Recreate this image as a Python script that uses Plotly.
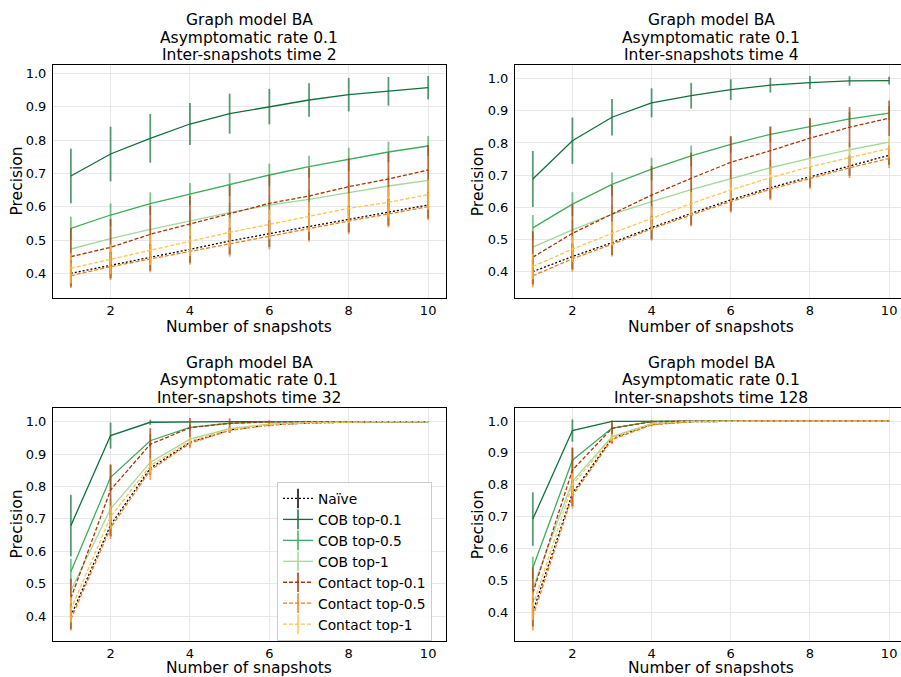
import plotly.graph_objects as go

W, H = 901, 677
x_snap = [1, 2, 3, 4, 5, 6, 7, 8, 9, 10]
series_names = ["Naïve", "COB top-0.1", "COB top-0.5", "COB top-1",
                "Contact top-0.1", "Contact top-0.5", "Contact top-1"]
inter_times = [2, 4, 32, 128]
x_tick_vals = [2, 4, 6, 8, 10]

# ---- Inter-snapshots time 2 ----
t2_naive = [0.400, 0.425, 0.448, 0.472, 0.497, 0.519, 0.540, 0.563, 0.583, 0.605]
t2_naive_err = [0.040, 0.040, 0.040, 0.040, 0.040, 0.040, 0.040, 0.040, 0.040, 0.040]
t2_cob01 = [0.692, 0.758, 0.805, 0.848, 0.879, 0.900, 0.920, 0.936, 0.946, 0.957]
t2_cob01_err = [0.082, 0.082, 0.073, 0.063, 0.060, 0.053, 0.050, 0.050, 0.043, 0.035]
t2_cob05 = [0.535, 0.575, 0.609, 0.638, 0.666, 0.695, 0.720, 0.742, 0.764, 0.782]
t2_cob05_err = [0.035, 0.035, 0.034, 0.033, 0.034, 0.034, 0.033, 0.035, 0.031, 0.030]
t2_cob1 = [0.473, 0.504, 0.532, 0.558, 0.582, 0.605, 0.622, 0.642, 0.662, 0.679]
t2_cob1_err = [0.030, 0.030, 0.030, 0.030, 0.030, 0.030, 0.030, 0.030, 0.030, 0.030]
t2_con01 = [0.450, 0.478, 0.517, 0.547, 0.579, 0.610, 0.632, 0.660, 0.683, 0.710]
t2_con01_err = [0.085, 0.085, 0.085, 0.085, 0.085, 0.085, 0.085, 0.085, 0.080, 0.075]
t2_con05 = [0.393, 0.420, 0.443, 0.466, 0.490, 0.512, 0.535, 0.557, 0.578, 0.600]
t2_con05_err = [0.037, 0.040, 0.040, 0.040, 0.040, 0.040, 0.040, 0.040, 0.040, 0.040]
t2_con1 = [0.415, 0.442, 0.470, 0.497, 0.523, 0.547, 0.570, 0.595, 0.613, 0.636]
t2_con1_err = [0.045, 0.045, 0.045, 0.045, 0.045, 0.045, 0.045, 0.045, 0.045, 0.045]

# ---- Inter-snapshots time 4 ----
t4_naive = [0.400, 0.447, 0.490, 0.537, 0.581, 0.623, 0.661, 0.695, 0.730, 0.762]
t4_naive_err = [0.040, 0.040, 0.038, 0.037, 0.036, 0.035, 0.034, 0.033, 0.032, 0.030]
t4_cob01 = [0.688, 0.807, 0.880, 0.925, 0.947, 0.966, 0.980, 0.988, 0.993, 0.994]
t4_cob01_err = [0.087, 0.072, 0.057, 0.045, 0.040, 0.032, 0.023, 0.020, 0.015, 0.012]
t4_cob05 = [0.536, 0.610, 0.671, 0.719, 0.760, 0.796, 0.827, 0.852, 0.875, 0.893]
t4_cob05_err = [0.040, 0.037, 0.037, 0.035, 0.032, 0.026, 0.024, 0.025, 0.022, 0.022]
t4_cob1 = [0.476, 0.530, 0.578, 0.618, 0.655, 0.690, 0.723, 0.752, 0.779, 0.803]
t4_cob1_err = [0.030, 0.030, 0.028, 0.027, 0.026, 0.025, 0.024, 0.022, 0.021, 0.020]
t4_con01 = [0.445, 0.519, 0.579, 0.638, 0.690, 0.740, 0.776, 0.815, 0.849, 0.877]
t4_con01_err = [0.080, 0.090, 0.090, 0.090, 0.080, 0.080, 0.075, 0.062, 0.063, 0.055]
t4_con05 = [0.387, 0.440, 0.485, 0.533, 0.576, 0.618, 0.656, 0.690, 0.723, 0.752]
t4_con05_err = [0.036, 0.040, 0.038, 0.037, 0.036, 0.035, 0.034, 0.033, 0.032, 0.030]
t4_con1 = [0.416, 0.470, 0.519, 0.566, 0.612, 0.654, 0.692, 0.726, 0.754, 0.783]
t4_con1_err = [0.040, 0.040, 0.038, 0.037, 0.036, 0.035, 0.034, 0.033, 0.032, 0.030]

# ---- Inter-snapshots time 32 ----
t32_naive = [0.400, 0.681, 0.856, 0.936, 0.974, 0.990, 0.996, 0.999, 1.000, 1.000]
t32_naive_err = [0.040, 0.035, 0.020, 0.012, 0.008, 0.004, 0.002, 0.001, 0.000, 0.000]
t32_cob01 = [0.679, 0.957, 0.998, 1.000, 1.000, 1.000, 1.000, 1.000, 1.000, 1.000]
t32_cob01_err = [0.095, 0.040, 0.008, 0.000, 0.000, 0.000, 0.000, 0.000, 0.000, 0.000]
t32_cob05 = [0.537, 0.828, 0.941, 0.982, 0.995, 0.999, 1.000, 1.000, 1.000, 1.000]
t32_cob05_err = [0.040, 0.040, 0.020, 0.010, 0.005, 0.002, 0.000, 0.000, 0.000, 0.000]
t32_cob1 = [0.478, 0.731, 0.874, 0.946, 0.978, 0.992, 0.998, 1.000, 1.000, 1.000]
t32_cob1_err = [0.030, 0.030, 0.020, 0.010, 0.006, 0.003, 0.001, 0.000, 0.000, 0.000]
t32_con01 = [0.455, 0.789, 0.930, 0.981, 0.995, 0.999, 1.000, 1.000, 1.000, 1.000]
t32_con01_err = [0.060, 0.078, 0.050, 0.030, 0.015, 0.005, 0.001, 0.000, 0.000, 0.000]
t32_con05 = [0.390, 0.672, 0.850, 0.933, 0.973, 0.989, 0.996, 0.999, 1.000, 1.000]
t32_con05_err = [0.035, 0.035, 0.030, 0.015, 0.008, 0.004, 0.002, 0.001, 0.000, 0.000]
t32_con1 = [0.420, 0.706, 0.864, 0.940, 0.976, 0.991, 0.997, 0.999, 1.000, 1.000]
t32_con1_err = [0.040, 0.035, 0.025, 0.013, 0.007, 0.003, 0.001, 0.000, 0.000, 0.000]

# ---- Inter-snapshots time 128 ----
t128_naive = [0.400, 0.773, 0.946, 0.990, 0.998, 1.000, 1.000, 1.000, 1.000, 1.000]
t128_naive_err = [0.045, 0.040, 0.015, 0.005, 0.002, 0.000, 0.000, 0.000, 0.000, 0.000]
t128_cob01 = [0.692, 0.970, 0.999, 1.000, 1.000, 1.000, 1.000, 1.000, 1.000, 1.000]
t128_cob01_err = [0.084, 0.035, 0.003, 0.000, 0.000, 0.000, 0.000, 0.000, 0.000, 0.000]
t128_cob05 = [0.539, 0.877, 0.978, 0.998, 1.000, 1.000, 1.000, 1.000, 1.000, 1.000]
t128_cob05_err = [0.035, 0.040, 0.015, 0.003, 0.000, 0.000, 0.000, 0.000, 0.000, 0.000]
t128_cob1 = [0.474, 0.810, 0.951, 0.992, 0.999, 1.000, 1.000, 1.000, 1.000, 1.000]
t128_cob1_err = [0.030, 0.030, 0.010, 0.004, 0.001, 0.000, 0.000, 0.000, 0.000, 0.000]
t128_con01 = [0.460, 0.846, 0.977, 0.998, 1.000, 1.000, 1.000, 1.000, 1.000, 1.000]
t128_con01_err = [0.080, 0.070, 0.020, 0.005, 0.000, 0.000, 0.000, 0.000, 0.000, 0.000]
t128_con05 = [0.385, 0.765, 0.942, 0.988, 0.998, 1.000, 1.000, 1.000, 1.000, 1.000]
t128_con05_err = [0.043, 0.040, 0.015, 0.005, 0.002, 0.000, 0.000, 0.000, 0.000, 0.000]
t128_con1 = [0.420, 0.800, 0.948, 0.991, 0.999, 1.000, 1.000, 1.000, 1.000, 1.000]
t128_con1_err = [0.045, 0.035, 0.012, 0.004, 0.001, 0.000, 0.000, 0.000, 0.000, 0.000]

panels = [
    [(t2_naive, t2_naive_err), (t2_cob01, t2_cob01_err), (t2_cob05, t2_cob05_err), (t2_cob1, t2_cob1_err),
     (t2_con01, t2_con01_err), (t2_con05, t2_con05_err), (t2_con1, t2_con1_err)],
    [(t4_naive, t4_naive_err), (t4_cob01, t4_cob01_err), (t4_cob05, t4_cob05_err), (t4_cob1, t4_cob1_err),
     (t4_con01, t4_con01_err), (t4_con05, t4_con05_err), (t4_con1, t4_con1_err)],
    [(t32_naive, t32_naive_err), (t32_cob01, t32_cob01_err), (t32_cob05, t32_cob05_err), (t32_cob1, t32_cob1_err),
     (t32_con01, t32_con01_err), (t32_con05, t32_con05_err), (t32_con1, t32_con1_err)],
    [(t128_naive, t128_naive_err), (t128_cob01, t128_cob01_err), (t128_cob05, t128_cob05_err), (t128_cob1, t128_cob1_err),
     (t128_con01, t128_con01_err), (t128_con05, t128_con05_err), (t128_con1, t128_con1_err)],
]

# styles
line_colors = ["#000000", "#11703a", "#41ab5d", "#a1d99b", "#a63603", "#f47a20", "#fec44f"]
err_colors = ["rgba(0,0,0,0.75)", "rgba(17,112,58,0.7)", "rgba(65,171,93,0.7)", "rgba(161,217,155,0.7)",
              "rgba(166,54,3,0.7)", "rgba(244,122,32,0.7)", "rgba(254,196,79,0.7)"]
dashes = ["2px,2px", "solid", "solid", "solid", "4px,2px", "4px,2px", "4px,2px"]

FONT = "DejaVu Sans"

# panel geometry (pixels)
px_x = [(53, 446), (515, 901), (53, 446), (515, 901)]
px_y = [(65, 298), (65, 298), (408, 641), (408, 641)]
x_ranges = [[0.55, 10.45], [0.55, 10.3], [0.55, 10.45], [0.55, 10.3]]
y_ranges = [[0.326, 1.025], [0.318, 1.0425], [0.323, 1.042], [0.309, 1.041]]

fig = go.Figure()

for p in range(4):
    ax = "" if p == 0 else str(p + 1)
    for s in range(7):
        ys, es = panels[p][s]
        fig.add_trace(go.Scatter(
            x=x_snap, y=ys, mode="lines", name=series_names[s], showlegend=False,
            line=dict(color=line_colors[s], width=1.3, dash=dashes[s]),
            error_y=dict(type="data", array=es, visible=True, width=0,
                         thickness=1.8, color=err_colors[s]),
            xaxis="x" + ax, yaxis="y" + ax, hoverinfo="skip"))

# legend-only entries (line with vertical error tick)
for s in range(7):
    fig.add_trace(go.Scatter(
        x=[None], y=[None], mode="lines+markers", name=series_names[s],
        line=dict(color=line_colors[s], width=1.3, dash=dashes[s]),
        marker=dict(symbol="line-ns-open", size=14,
                    line=dict(color=line_colors[s], width=1.5)),
        xaxis="x3", yaxis="y3", showlegend=True))

layout = dict(
    width=W, height=H, margin=dict(l=0, r=0, t=0, b=0),
    paper_bgcolor="white", plot_bgcolor="white",
    font=dict(family=FONT, color="#000000"),
    showlegend=True,
    legend=dict(x=277 / W, y=1 - 482 / H, xanchor="left", yanchor="top",
                bgcolor="rgba(255,255,255,0.85)", bordercolor="#cccccc", borderwidth=1,
                font=dict(family=FONT, size=13.8, color="#000000"),
                tracegroupgap=0),
)

annotations = []
for p in range(4):
    ax = "" if p == 0 else str(p + 1)
    x0, x1 = px_x[p]
    y0, y1 = px_y[p]
    layout["xaxis" + ax] = dict(
        domain=[x0 / W, x1 / W], range=x_ranges[p], anchor="y" + ax,
        tickvals=x_tick_vals, ticks="",
        tickfont=dict(family=FONT, size=13, color="#000000"),
        showgrid=True, gridcolor="#e8e8e8", gridwidth=1,
        showline=True, linecolor="#000000", linewidth=1, mirror=True, zeroline=False)
    layout["yaxis" + ax] = dict(
        domain=[1 - y1 / H, 1 - y0 / H], range=y_ranges[p], anchor="x" + ax,
        tickvals=[0.4, 0.5, 0.6, 0.7, 0.8, 0.9, 1.0], tickformat=".1f",
        ticks="outside", ticklen=3, tickcolor="rgba(0,0,0,0)",
        tickfont=dict(family=FONT, size=13, color="#000000"),
        showgrid=True, gridcolor="#e8e8e8", gridwidth=1,
        showline=True, linecolor="#000000", linewidth=1, mirror=True, zeroline=False)

    # titles (three lines)
    cx = (x0 + (907 if p % 2 == 1 else x1)) / 2
    base = 20 if p < 2 else 362.7
    lines = ["Graph model BA", "Asymptomatic rate 0.1", "Inter-snapshots time %d" % inter_times[p]]
    for i, txt in enumerate(lines):
        annotations.append(dict(text=txt, x=cx / W, y=1 - (base + i * 17.6) / H,
                                xref="paper", yref="paper", xanchor="center", yanchor="middle",
                                showarrow=False, font=dict(family=FONT, size=15.5, color="#000000")))
    # x title
    annotations.append(dict(text="Number of snapshots", x=cx / W,
                            y=1 - (326.5 if p < 2 else 668) / H,
                            xref="paper", yref="paper", xanchor="center", yanchor="middle",
                            showarrow=False, font=dict(family=FONT, size=15.5, color="#000000")))
    # y title
    annotations.append(dict(text="Precision", x=(16 if p % 2 == 0 else 477.7) / W,
                            y=1 - ((y0 + y1) / 2) / H, textangle=-90,
                            xref="paper", yref="paper", xanchor="center", yanchor="middle",
                            showarrow=False, font=dict(family=FONT, size=15.5, color="#000000")))

layout["annotations"] = annotations
fig.update_layout(**layout)
fig.write_html("out.html", config={"displayModeBar": False},
               post_script="document.body.style.margin='0px';document.body.style.padding='0px';document.body.style.overflow='hidden';")
